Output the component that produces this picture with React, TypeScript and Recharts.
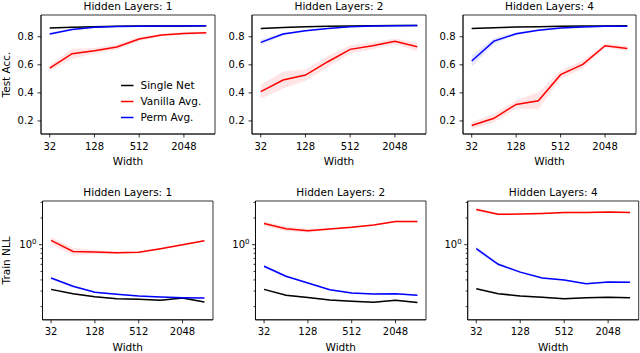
import React from 'react';
import { ComposedChart, Line, Area, XAxis, YAxis, Legend, ReferenceArea } from 'recharts';

const FONT = 'DejaVu Sans';

// x values (hidden width)
const widths = [32, 64, 128, 256, 512, 1024, 2048, 4096];
const widthTicks = [32, 128, 512, 2048];
const accTicks = [0.2, 0.4, 0.6, 0.8];
const nllTicks = [0.2, 0.3, 0.4, 0.5, 0.6, 0.7, 0.8, 0.9, 1, 2, 3];
const titles = ['Hidden Layers: 1', 'Hidden Layers: 2', 'Hidden Layers: 4'];
const seriesNames = ['Single Net', 'Vanilla Avg.', 'Perm Avg.'];
const colors = ['#000000', '#ff0000', '#0000ff'];

// Test accuracy (top row)
const accSingle1 = [0.862, 0.868, 0.872, 0.875, 0.876, 0.877, 0.877, 0.878];
const accVanilla1 = [0.577, 0.679, 0.7, 0.727, 0.784, 0.812, 0.824, 0.828];
const accPerm1 = [0.82, 0.852, 0.868, 0.873, 0.875, 0.876, 0.877, 0.878];
const accSingle2 = [0.859, 0.866, 0.871, 0.874, 0.877, 0.879, 0.88, 0.881];
const accVanilla2 = [0.409, 0.492, 0.527, 0.622, 0.71, 0.736, 0.767, 0.729];
const accPerm2 = [0.76, 0.819, 0.843, 0.859, 0.871, 0.876, 0.878, 0.881];
const accSingle4 = [0.859, 0.864, 0.869, 0.872, 0.874, 0.876, 0.877, 0.878];
const accVanilla4 = [0.167, 0.219, 0.318, 0.344, 0.53, 0.603, 0.736, 0.717];
const accPerm4 = [0.627, 0.769, 0.821, 0.847, 0.862, 0.869, 0.874, 0.874];

// spreads (half-width of shaded band)
const accSingleSd = [0.004, 0.003, 0.003, 0.002, 0.002, 0.002, 0.002, 0.002];
const accVanillaSd1 = [0.02, 0.035, 0.02, 0.02, 0.015, 0.01, 0.01, 0.01];
const accPermSd1 = [0.01, 0.006, 0.004, 0.003, 0.003, 0.003, 0.003, 0.003];
const accVanillaSd2 = [0.05, 0.06, 0.04, 0.04, 0.03, 0.025, 0.02, 0.03];
const accPermSd2 = [0.02, 0.01, 0.006, 0.004, 0.003, 0.003, 0.003, 0.003];
const accVanillaSd4 = [0.025, 0.03, 0.03, 0.06, 0.03, 0.03, 0.012, 0.02];
const accPermSd4 = [0.04, 0.02, 0.01, 0.006, 0.004, 0.003, 0.003, 0.003];

// Train NLL (bottom row, log scale)
const nllSingle1 = [0.313, 0.28, 0.259, 0.246, 0.242, 0.236, 0.25, 0.226];
const nllVanilla1 = [1.12, 0.84, 0.827, 0.81, 0.82, 0.9, 1.0, 1.11];
const nllPerm1 = [0.42, 0.339, 0.29, 0.276, 0.264, 0.257, 0.252, 0.25];
const nllSingle2 = [0.313, 0.269, 0.254, 0.238, 0.23, 0.224, 0.236, 0.222];
const nllVanilla2 = [1.73, 1.51, 1.44, 1.5, 1.57, 1.67, 1.83, 1.82];
const nllPerm2 = [0.57, 0.44, 0.37, 0.31, 0.285, 0.277, 0.28, 0.269];
const nllSingle4 = [0.319, 0.28, 0.264, 0.255, 0.246, 0.252, 0.255, 0.252];
const nllVanilla4 = [2.5, 2.2, 2.22, 2.25, 2.3, 2.31, 2.33, 2.31];
const nllPerm4 = [0.9, 0.6, 0.49, 0.42, 0.4, 0.363, 0.38, 0.377];

// relative spreads for log panels
const nllSingleRel = [0.02, 0.02, 0.02, 0.02, 0.02, 0.02, 0.02, 0.02];
const nllVanillaRel1 = [0.1, 0.1, 0.05, 0.03, 0.02, 0.02, 0.02, 0.02];
const nllPermRel1 = [0.03, 0.03, 0.02, 0.02, 0.02, 0.02, 0.02, 0.02];
const nllVanillaRel2 = [0.06, 0.06, 0.05, 0.03, 0.02, 0.02, 0.02, 0.02];
const nllPermRel2 = [0.04, 0.03, 0.02, 0.02, 0.02, 0.02, 0.02, 0.02];
const nllVanillaRel4 = [0.05, 0.03, 0.02, 0.02, 0.02, 0.02, 0.02, 0.02];
const nllPermRel4 = [0.06, 0.04, 0.03, 0.02, 0.02, 0.02, 0.02, 0.02];

const xDomain = [24.4, 5370];
const accDomain = [0.107, 0.955];
const nllDomain = [0.142, 3.11];

type Row = Record<string, any>;

function buildRows(
  s: number[], ss: number[], v: number[], vs: number[], p: number[], ps: number[], mult: boolean
): Row[] {
  return widths.map((w, i) => {
    const band = (val: number, sd: number) =>
      mult ? [val * (1 - sd), val * (1 + sd)] : [val - sd, val + sd];
    return {
      w,
      s: s[i], v: v[i], p: p[i],
      sB: band(s[i], ss[i]), vB: band(v[i], vs[i]), pB: band(p[i], ps[i]),
    };
  });
}

const accRows = [
  buildRows(accSingle1, accSingleSd, accVanilla1, accVanillaSd1, accPerm1, accPermSd1, false),
  buildRows(accSingle2, accSingleSd, accVanilla2, accVanillaSd2, accPerm2, accPermSd2, false),
  buildRows(accSingle4, accSingleSd, accVanilla4, accVanillaSd4, accPerm4, accPermSd4, false),
];
const nllRows = [
  buildRows(nllSingle1, nllSingleRel, nllVanilla1, nllVanillaRel1, nllPerm1, nllPermRel1, true),
  buildRows(nllSingle2, nllSingleRel, nllVanilla2, nllVanillaRel2, nllPerm2, nllPermRel2, true),
  buildRows(nllSingle4, nllSingleRel, nllVanilla4, nllVanillaRel4, nllPerm4, nllPermRel4, true),
];

type Frame = { x: number; y: number; w: number; h: number };
const topFrames: Frame[] = [
  { x: 41, y: 15, w: 174, h: 119 },
  { x: 252, y: 15, w: 174, h: 119 },
  { x: 463, y: 15, w: 173, h: 119 },
];
const bottomFrames: Frame[] = [
  { x: 42.5, y: 200.7, w: 170.5, h: 118.8 },
  { x: 255.5, y: 200.7, w: 170.5, h: 118.8 },
  { x: 467.7, y: 200.7, w: 171, h: 118.8 },
];

const T = 15;
const R = 3;
const B = 36;

const LogTick = (props: any) => {
  const { x, y, payload } = props;
  const v = payload.value;
  const major = Math.abs(v - 1) < 1e-9;
  return (
    <g>
      <line x1={x} x2={x - (major ? 3.5 : 2)} y1={y} y2={y} stroke="#000" strokeWidth={0.8} />
      {major && (
        <text x={x - 6} y={y + 3.6} textAnchor="end" fontSize={10} fontFamily={FONT} fill="#000">
          10<tspan dy={-4.5} fontSize={7}>0</tspan>
        </text>
      )}
    </g>
  );
};

const LegendBox = () => (
  <svg width={95} height={50} style={{ display: 'block' }}>
    {seriesNames.map((n, i) => {
      const cy = 8.5 + i * 16;
      return (
        <g key={n}>
          <line x1={3} x2={15.5} y1={cy} y2={cy} stroke={colors[i]} strokeWidth={1.5} />
          <text x={22.5} y={cy + 3.7} fontSize={10.5} fontFamily={FONT} fill="#000">{n}</text>
        </g>
      );
    })}
  </svg>
);

function Panel(props: {
  frame: Frame; rows: Row[]; log: boolean; title: string; yLabel?: string; legend?: boolean;
}) {
  const { frame, rows, log, title, yLabel, legend } = props;
  const L = frame.x;
  const left = frame.x - L;
  const top = frame.y - T;
  const width = L + frame.w + R;
  const height = T + frame.h + B;
  const yDomain = log ? nllDomain : accDomain;
  const axisLine = { stroke: '#000', strokeWidth: 0.8 };
  const tickStyle = { fill: '#000', fontSize: 10, fontFamily: FONT };
  const labelCommon = { fill: '#000', fontSize: 10.5, fontFamily: FONT };
  return (
    <div style={{ position: 'absolute', left, top, width, height }}>
      <ComposedChart width={width} height={height} data={rows}
        margin={{ top: T, right: R, bottom: 0, left: 0 }}>
        <XAxis dataKey="w" type="number" scale="log" domain={xDomain} allowDataOverflow
          ticks={widthTicks} interval={0} tickSize={3.5} tickMargin={5}
          tick={tickStyle} axisLine={axisLine} tickLine={axisLine} height={B}
          label={{ value: 'Width', position: 'insideBottom', offset: 5, ...labelCommon }} />
        {log ? (
          <YAxis type="number" scale="log" domain={yDomain} allowDataOverflow ticks={nllTicks}
            interval={0} width={L} tickSize={0} tickMargin={0} tickLine={false}
            tick={<LogTick />} axisLine={axisLine}
            label={yLabel ? { value: yLabel, angle: -90, position: 'insideLeft', offset: 6, ...labelCommon, style: { textAnchor: 'middle' } } : undefined} />
        ) : (
          <YAxis type="number" domain={yDomain} allowDataOverflow ticks={accTicks} interval={0}
            width={L} tickSize={3.5} tickMargin={4} tick={tickStyle} axisLine={axisLine} tickLine={axisLine}
            tickFormatter={(v: number) => v.toFixed(1)}
            label={yLabel ? { value: yLabel, angle: -90, position: 'insideLeft', offset: 6, ...labelCommon, style: { textAnchor: 'middle' } } : undefined} />
        )}
        <Area type="linear" dataKey="sB" stroke="none" fill="#000000" fillOpacity={0.1} isAnimationActive={false} />
        <Area type="linear" dataKey="vB" stroke="none" fill="#ff0000" fillOpacity={0.1} isAnimationActive={false} />
        <Area type="linear" dataKey="pB" stroke="none" fill="#0000ff" fillOpacity={0.1} isAnimationActive={false} />
        <Line type="linear" dataKey="s" stroke={colors[0]} strokeWidth={1.5} dot={false} isAnimationActive={false} />
        <Line type="linear" dataKey="v" stroke={colors[1]} strokeWidth={1.5} dot={false} isAnimationActive={false} />
        <Line type="linear" dataKey="p" stroke={colors[2]} strokeWidth={1.5} dot={false} isAnimationActive={false} />
        <ReferenceArea x1={xDomain[0]} x2={xDomain[1]} y1={yDomain[0]} y2={yDomain[1]}
          ifOverflow="visible" fill="none" fillOpacity={0} stroke="#000" strokeWidth={0.8}
          label={{ value: title, position: 'top', offset: 5.5, ...labelCommon }} />
        {legend && (
          <Legend layout="vertical" align="center" verticalAlign="middle" content={() => <LegendBox />}
            wrapperStyle={{ left: 118, top: 77, width: 95, height: 50 }} />
        )}
      </ComposedChart>
    </div>
  );
}

export default function App() {
  return (
    <div style={{ position: 'absolute', left: 0, top: 0, width: 640, height: 353, background: '#fff', overflow: 'hidden' }}>
      {topFrames.map((f, i) => (
        <Panel key={'t' + i} frame={f} rows={accRows[i]} log={false} title={titles[i]}
          yLabel={i === 0 ? 'Test Acc.' : undefined} legend={i === 0} />
      ))}
      {bottomFrames.map((f, i) => (
        <Panel key={'b' + i} frame={f} rows={nllRows[i]} log={true} title={titles[i]}
          yLabel={i === 0 ? 'Train NLL' : undefined} />
      ))}
    </div>
  );
}
